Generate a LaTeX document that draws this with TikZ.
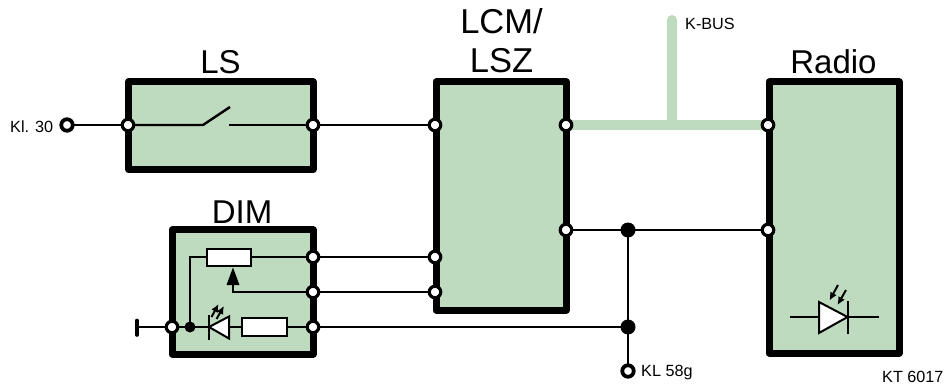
\documentclass[tikz,border=0pt]{standalone}
\usepackage{fontspec}
\setmainfont{Liberation Sans}
\usetikzlibrary{arrows.meta}
\definecolor{gr}{HTML}{BFDBBF}
\tikzset{
  x=1pt,y=-1pt,
  block/.style={draw=black,fill=gr,line width=7pt,line join=round},
  port/.style={circle,draw=black,fill=white,line width=3.2pt,minimum size=11.5pt,inner sep=0pt,outer sep=0pt},
  term/.style={circle,draw=black,fill=white,line width=3.8pt,minimum size=11.5pt,inner sep=0pt,outer sep=0pt},
  dot/.style={circle,fill=black,minimum size=15pt,inner sep=0pt,outer sep=0pt},
  smalldot/.style={circle,fill=black,minimum size=11pt,inner sep=0pt,outer sep=0pt},
  wire/.style={draw=black,line width=2.4pt},
  bus/.style={draw=gr,line width=10pt},
  comp/.style={draw=black,fill=white,line width=2pt},
  big/.style={font=\fontsize{33}{39}\selectfont,inner sep=0pt,align=center},
  small/.style={font=\fontsize{16.2}{18}\selectfont,inner sep=0pt},
  ray/.style={draw=black,line width=2pt,-{Latex[length=8pt,width=7.5pt]}},
}
\begin{document}
\begin{tikzpicture}
\useasboundingbox (0,0) rectangle (946,385);
% blocks
\draw[block] (128.5,82) rectangle (313,169.5);
\draw[block] (172,230) rectangle (313,354);
\draw[block] (436,82) rectangle (566,310);
\draw[block] (769,82) rectangle (899,353);
% coordinates
\coordinate (buscorner) at (672,125);
\coordinate (bustop) at (672,20);
\coordinate (swa) at (203,125);
\coordinate (swb) at (230,107);
\coordinate (swc) at (229,125);
\coordinate (stub) at (137,327);
\coordinate (potin) at (190,257);
\coordinate (wiper) at (233,292);
% named terminals
\path (128,125) coordinate (lsa) (313,125) coordinate (lsb)
      (435,125) coordinate (lca) (566,125) coordinate (lcb)
      (435,257) coordinate (lcc) (435,292) coordinate (lcd)
      (566,230) coordinate (lce)
      (768,125) coordinate (raa) (768,230) coordinate (rab)
      (313,257) coordinate (dia) (313,292) coordinate (dib)
      (313,327) coordinate (dic) (172,327) coordinate (did);
\coordinate (k30) at (67,125);
\coordinate (k58) at (628,371);
\coordinate (j1) at (628,230);
\coordinate (j2) at (628,327);
\coordinate (j3) at (190,327);
% bus
\draw[bus] (lcb) -- (raa);
\draw[bus,line cap=round] (buscorner) -- (bustop);
% wires
\draw[wire] (k30) -- (lsa);
\draw[wire] (lsa) -- (swa) -- (swb);
\draw[wire] (swc) -- (lsb);
\draw[wire] (lsb) -- (lca);
\draw[wire] (dia) -- (lcc);
\draw[wire] (dib) -- (lcd);
\draw[wire] (lce) -- (rab);
\draw[wire] (j1) -- (k58);
\draw[wire] (dic) -- (j2);
\draw[wire] (dia) -- (potin) -- (j3);
\draw[wire] (stub) -- (dic);
\draw[draw=black,line width=3.6pt,line cap=round] (137,320.5) -- (137,335);
% wiper
\draw[wire] (dib) -- (wiper) -- (233,280);
% components
\node[comp,minimum width=44pt,minimum height=17pt,inner sep=0pt] (pot) at (229,257) {};
\node[comp,minimum width=45pt,minimum height=18pt,inner sep=0pt] (res) at (264.5,327) {};
\fill[black] (233,267.5) -- (239.5,285) -- (226.5,285) -- cycle;
% DIM LED
\draw[comp] (209,327) -- (229,316.5) -- (229,338.5) -- cycle;
\draw[draw=black,line width=2pt] (208.5,315) -- (208.5,340);
\draw[ray] (211.5,317) -- (218.5,304);
\draw[ray] (216.5,319) -- (224,306);
% Radio LED
\draw[wire] (790,317) -- (879,317);
\draw[comp] (847.5,317) -- (819,302) -- (819,333) -- cycle;
\draw[draw=black,line width=2pt] (848,301) -- (848,334);
\draw[ray] (838,285) -- (829.5,300.5);
\draw[ray] (846,290) -- (837.5,305);
% ports and terminals
\foreach \p in {lsa,lsb,lca,lcb,lcc,lcd,lce,raa,rab,dia,dib,dic,did} \node[port] at (\p) {};
\node[term] at (k30) {};
\node[term] at (k58) {};
\node[dot] at (j1) {};
\node[dot] at (j2) {};
\node[smalldot] at (j3) {};
% labels
\node[big] at (220.5,62) {LS};
\node[big] at (242,212) {DIM};
\node[big,font=\fontsize{34.5}{39}\selectfont] at (501.5,41) {LCM/\\LSZ};
\node[big] at (833.5,62) {Radio};
\node[small,anchor=west] at (10,127) {Kl. 30};
\node[small,anchor=west] at (685,24) {K-BUS};
\node[small,anchor=west] at (641,373) {KL 58g};
\node[small,anchor=west] at (882,376.5) {KT 6017};
\end{tikzpicture}
\end{document}
